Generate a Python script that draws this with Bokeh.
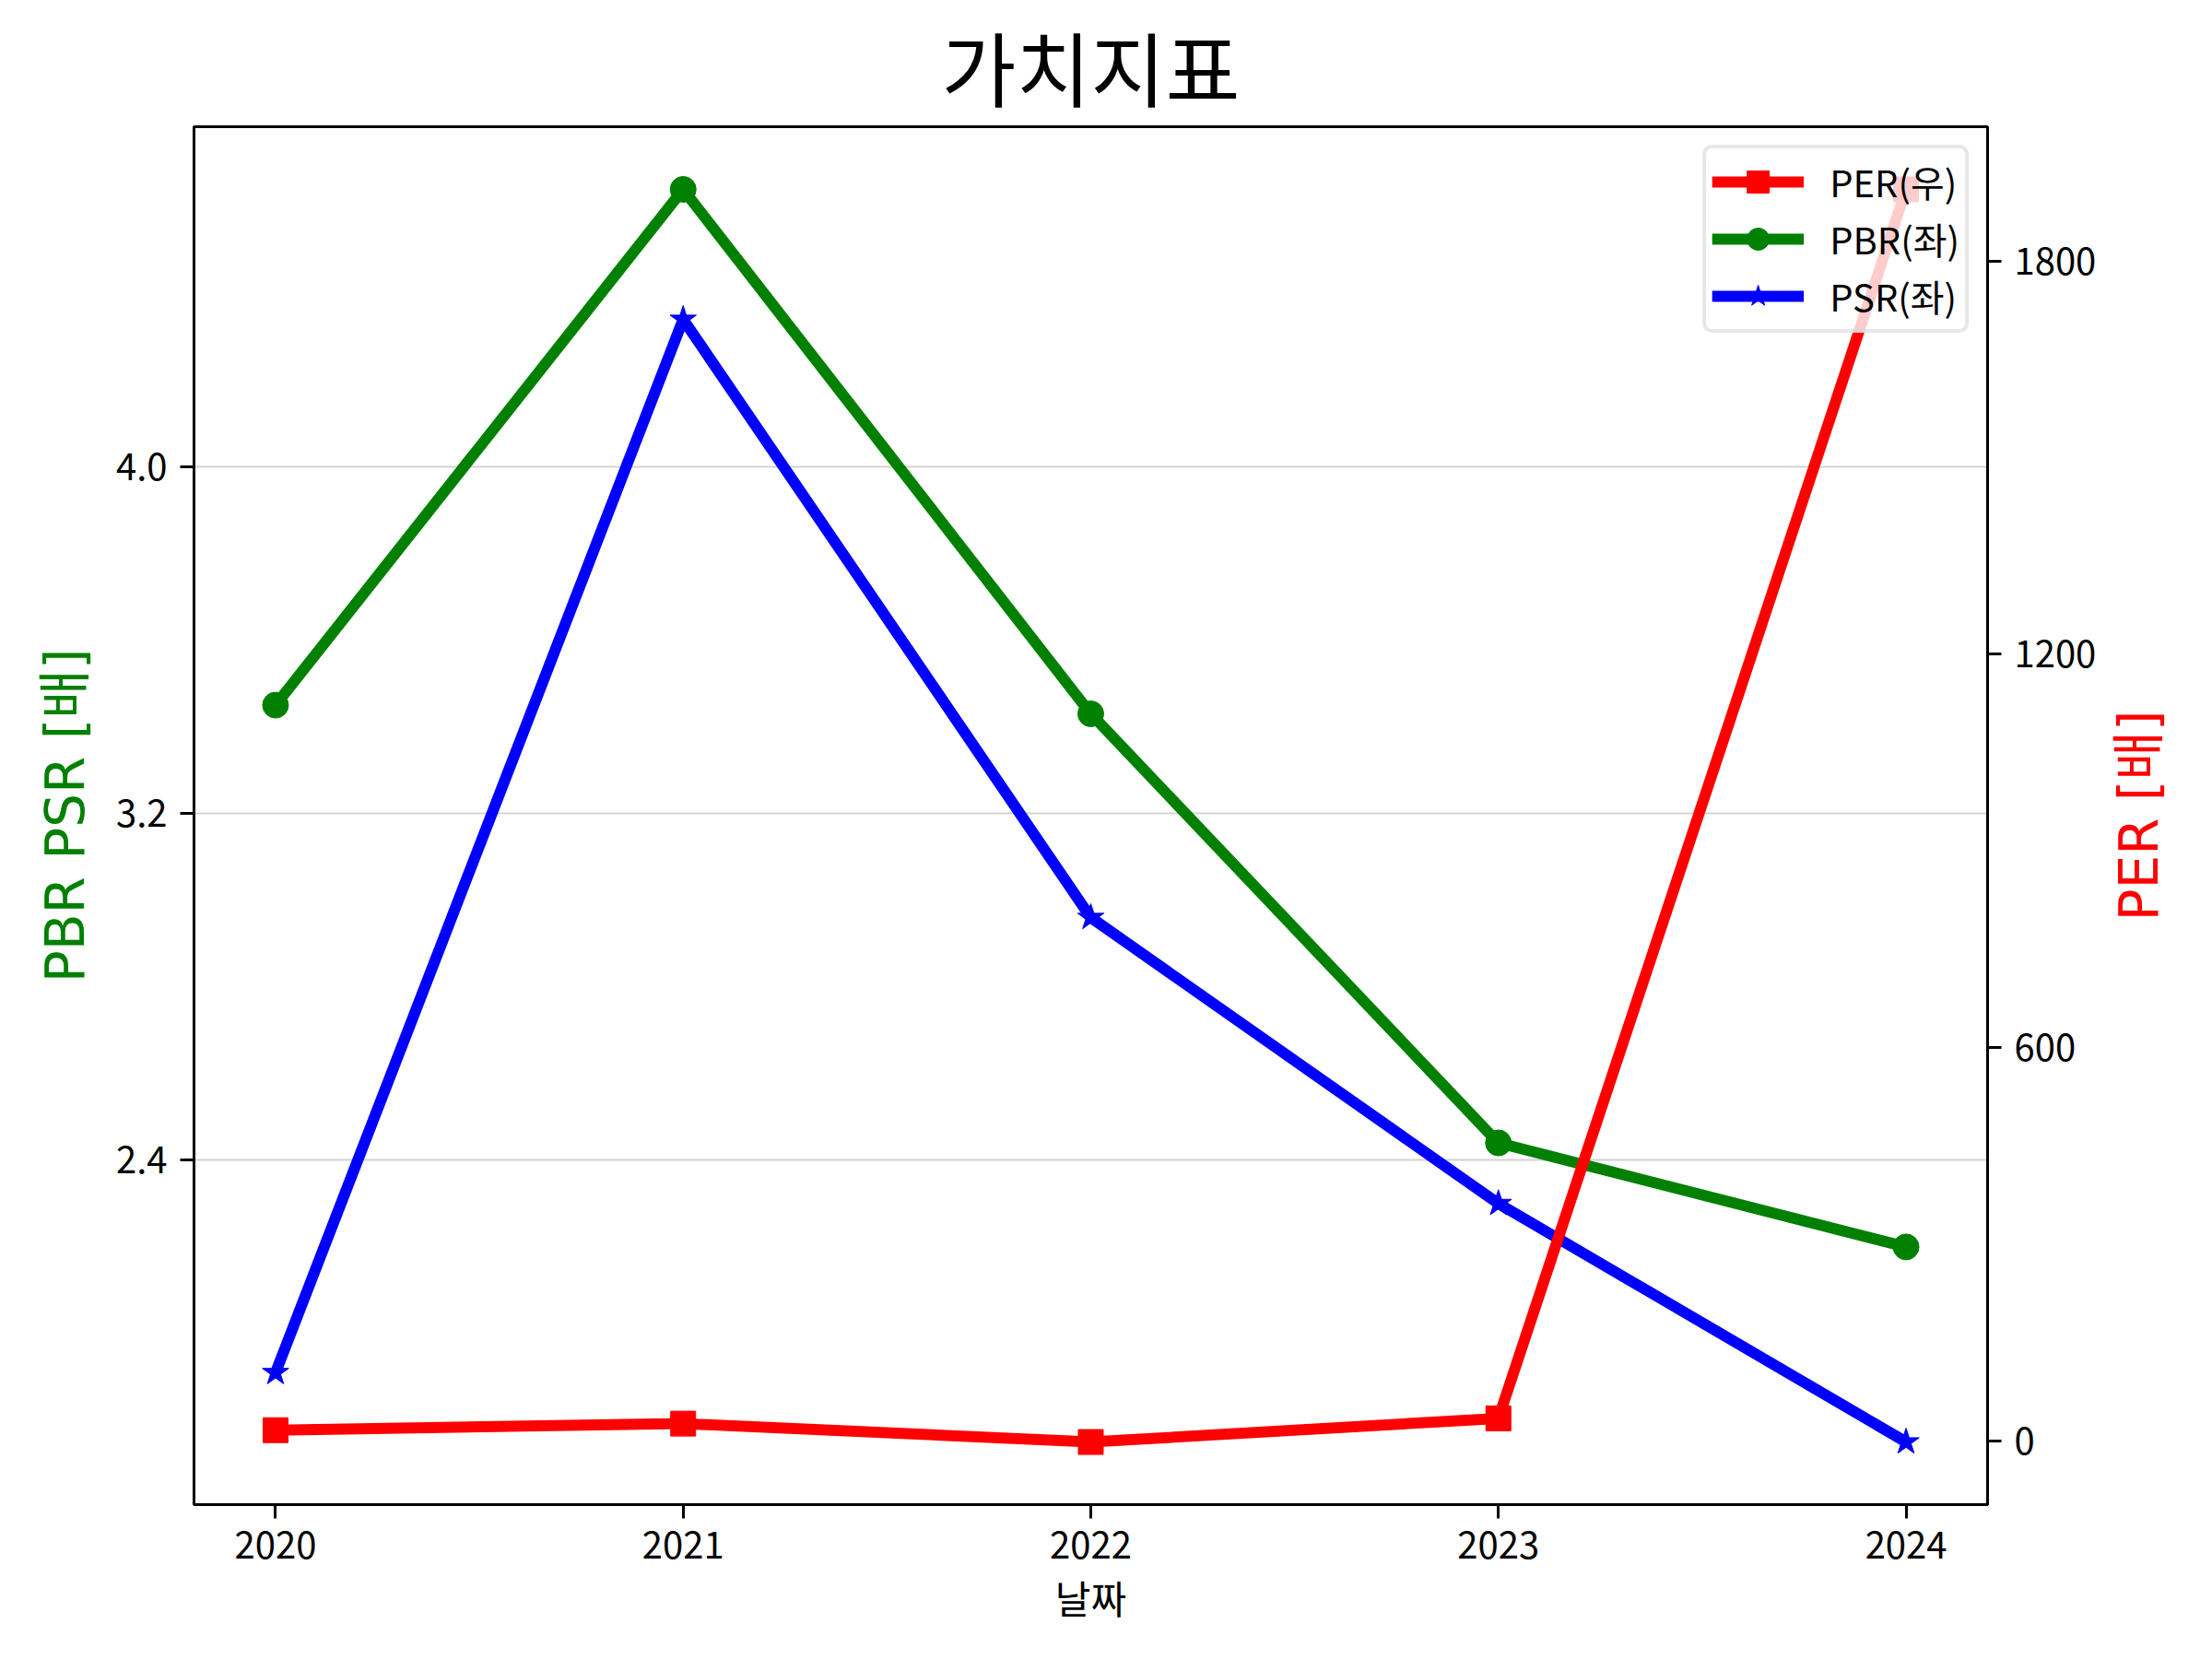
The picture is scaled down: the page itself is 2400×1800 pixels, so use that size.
import math
from bokeh.plotting import figure
from bokeh.layouts import row
from bokeh.models import (Range1d, LinearAxis, FixedTicker, NumeralTickFormatter,
                          Legend, LegendItem)
from bokeh.core.properties import value
from bokeh.embed import file_html
from bokeh.resources import INLINE

years = [2020, 2021, 2022, 2023, 2024]
per = [17, 27, -1, 35, 1909]
pbr = [3.45, 4.64, 3.43, 2.44, 2.20]
psr = [1.91, 4.34, 2.96, 2.30, 1.75]

left_ticks = [2.4, 3.2, 4.0]
right_ticks = [0, 600, 1200, 1800]

FONT = "Noto Sans CJK KR"
LFONT = "'DejaVu Sans', 'Noto Sans CJK KR'"

def pad(vals, frac=0.05):
    lo, hi = min(vals), max(vals)
    d = (hi - lo) * frac
    return lo - d, hi + d

x0, x1 = pad(years)
l0, l1 = pad(pbr + psr)
r0, r1 = pad(per)

W, H = 2384, 1784
W2 = 100                      # strip holding the right-hand axis title
p = figure(width=W - W2, height=H, output_backend="svg", toolbar_location=None,
           x_range=Range1d(x0, x1), y_range=Range1d(l0, l1),
           min_border_left=210, min_border_right=128,
           min_border_top=128, min_border_bottom=152)
p.extra_y_ranges = {"per": Range1d(r0, r1)}

p.title.text = "가치지표"
p.title.align = "center"
p.title.text_font = FONT
p.title.text_font_size = "88px"
p.title.text_font_style = "normal"
p.title.text_color = "black"
p.title.standoff = 8

p.outline_line_color = "black"
p.outline_line_width = 3
p.background_fill_color = "white"
p.border_fill_color = "white"

p.xgrid.visible = False
p.ygrid.grid_line_color = "#d3d3d3"
p.ygrid.grid_line_width = 2
p.ygrid.ticker = FixedTicker(ticks=left_ticks)

# x axis
xa = p.xaxis[0]
xa.ticker = FixedTicker(ticks=years)
xa.axis_label = "날짜"
xa.axis_label_text_font = FONT
xa.axis_label_text_font_size = "42px"
xa.axis_label_text_font_style = "normal"
xa.axis_label_text_color = "black"
xa.axis_label_standoff = 8
xa.major_label_text_font = FONT
xa.major_label_text_font_size = "40px"
xa.major_label_standoff = 14

# left axis
ya = p.yaxis[0]
ya.ticker = FixedTicker(ticks=left_ticks)
ya.formatter = NumeralTickFormatter(format="0.0")
ya.axis_label = "PBR PSR [배]"
ya.axis_label_text_color = "green"
ya.axis_label_text_font = LFONT
ya.axis_label_text_font_size = "58px"
ya.axis_label_text_font_style = "normal"
ya.axis_label_standoff = 18
ya.major_label_text_font = FONT
ya.major_label_text_font_size = "40px"
ya.major_label_standoff = 14

# right axis (its title sits in the narrow strip figure beside it)
ra = LinearAxis(y_range_name="per", ticker=FixedTicker(ticks=right_ticks))
ra.major_label_text_font = FONT
ra.major_label_text_font_size = "40px"
ra.major_label_standoff = 14
p.add_layout(ra, "right")

for ax in [xa, ya, ra]:
    ax.axis_line_color = "black"
    ax.axis_line_width = 3
    ax.major_tick_line_color = "black"
    ax.major_tick_line_width = 3
    ax.major_tick_out = 15
    ax.major_tick_in = 0
    ax.minor_tick_line_color = None
    ax.major_label_text_color = "black"

LW = 12
l_pbr = p.line(years, pbr, line_color="green", line_width=LW)
m_pbr = p.scatter(years, pbr, marker="circle", size=28, fill_color="green", line_color="green")
l_psr = p.line(years, psr, line_color="blue", line_width=LW)
m_psr = p.scatter(years, psr, marker="star", size=30, fill_color="blue", line_color="blue")
l_per = p.line(years, per, line_color="red", line_width=LW, y_range_name="per")
m_per = p.scatter(years, per, marker="square", size=27, fill_color="red", line_color="red",
                  y_range_name="per")
l_per.level = "overlay"
m_per.level = "overlay"

legend = Legend(items=[
    LegendItem(label="PER(우)", renderers=[l_per, m_per]),
    LegendItem(label="PBR(좌)", renderers=[l_pbr, m_pbr]),
    LegendItem(label="PSR(좌)", renderers=[l_psr, m_psr]),
], location="top_right")
legend.label_text_font = FONT
legend.label_text_font_size = "40px"
legend.label_text_color = "black"
legend.glyph_width = 100
legend.glyph_height = 60
legend.label_height = 60
legend.spacing = 2
legend.padding = 6
legend.margin = 20
legend.label_standoff = 28
legend.border_line_color = "#d0d0d0"
legend.border_line_width = 4
legend.border_radius = 10
legend.background_fill_alpha = 0.8
p.add_layout(legend)

# strip with the right axis title, reading bottom-to-top
p2 = figure(width=W2, height=H, output_backend="svg", toolbar_location=None,
            x_range=Range1d(0, 1), y_range=Range1d(0, 1),
            x_axis_location=None, y_axis_location=None, min_border=0)
p2.outline_line_color = None
p2.grid.visible = False
p2.background_fill_color = "white"
p2.border_fill_color = "white"
p2.text(x=[0.36], y=[0.5], text=["PER [배]"], angle=math.pi / 2,
        text_align="center", text_baseline="middle", text_color="red",
        text_font=value(LFONT), text_font_size=value("58px"))

layout = row(p, p2, spacing=0)
open("out.html", "w").write(file_html(layout, INLINE))
